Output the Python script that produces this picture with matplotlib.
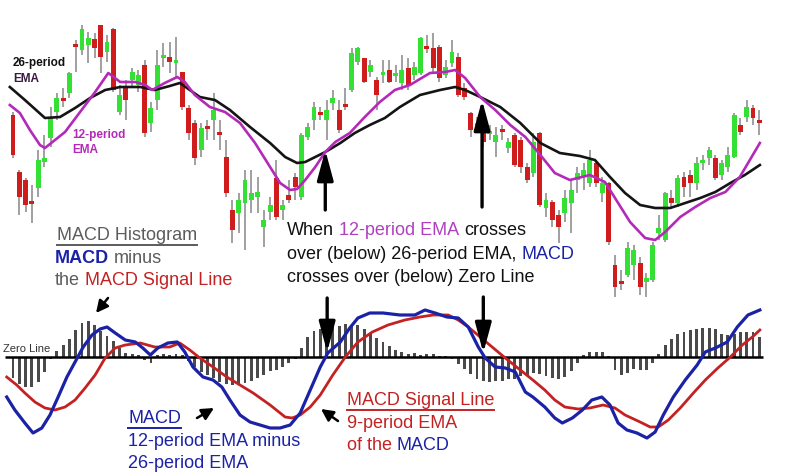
import matplotlib
matplotlib.use("Agg")
import matplotlib.pyplot as plt
from matplotlib.lines import Line2D
import numpy as np

plt.rcParams['font.family'] = ['Liberation Sans', 'DejaVu Sans']

# ---- price candles (one per session) ----
opens = [185, 128, 120, 99, 112, 138, 162, 188, 202, 207,
         256, 250, 255, 261, 275, 248, 271, 188, 212, 220,
         215, 235, 177, 200, 242, 243, 237, 228, 192, 177,
         150, 174, 180, 168, 143, 90, 87, 97, 100, 103,
         73, 88, 122, 90, 105, 123, 103, 163, 180, 188,
         180, 197, 190, 196, 210, 238, 242, 228, 220, 225,
         230, 225, 217, 232, 225, 227, 254, 252, 253, 225,
         237, 243, 212, 187, 172, 168, 166, 158, 171, 152,
         165, 160, 133, 127, 167, 92, 98, 85, 87, 97,
         120, 123, 117, 137, 107, 117, 35, 19, 25, 35,
         37, 18, 20, 67, 60, 102, 97, 123, 125, 117,
         137, 142, 142, 125, 133, 143, 175, 183, 192, 180]
closes = [145, 103, 95, 97, 140, 142, 182, 202, 200, 227,
          254, 271, 262, 252, 243, 258, 210, 205, 200, 228,
          225, 167, 192, 235, 245, 238, 240, 193, 167, 142,
          172, 172, 190, 166, 107, 70, 100, 120, 107, 108,
          80, 95, 83, 95, 100, 113, 165, 173, 193, 186,
          190, 202, 170, 194, 247, 252, 218, 235, 205, 228,
          218, 227, 230, 215, 233, 262, 252, 232, 222, 233,
          248, 205, 203, 170, 177, 158, 169, 165, 169, 158,
          135, 133, 120, 158, 95, 100, 80, 73, 102, 110,
          127, 130, 140, 117, 117, 58, 13, 17, 52, 50,
          13, 22, 55, 72, 107, 97, 122, 113, 117, 137,
          140, 150, 122, 137, 145, 185, 168, 193, 182, 177]
highs = [188, 130, 122, 115, 150, 165, 193, 207, 212, 228,
         260, 275, 268, 267, 275, 265, 272, 215, 220, 232,
         230, 240, 198, 250, 257, 258, 263, 228, 195, 180,
         177, 180, 207, 180, 160, 100, 107, 130, 130, 123,
         90, 103, 140, 100, 120, 127, 167, 177, 198, 193,
         200, 210, 200, 212, 252, 253, 242, 240, 223, 240,
         240, 235, 245, 242, 238, 263, 265, 267, 255, 240,
         260, 247, 217, 188, 183, 170, 175, 173, 175, 162,
         167, 163, 137, 167, 168, 107, 100, 90, 110, 120,
         133, 137, 150, 140, 123, 118, 45, 30, 58, 55,
         43, 27, 58, 85, 108, 110, 125, 128, 130, 143,
         145, 153, 145, 140, 153, 187, 182, 200, 195, 190]
lows = [142, 85, 88, 77, 103, 133, 153, 180, 193, 202,
        228, 245, 237, 242, 227, 238, 208, 185, 180, 212,
        208, 163, 168, 190, 233, 227, 223, 190, 160, 135,
        143, 160, 160, 150, 103, 57, 67, 50, 87, 87,
        53, 80, 80, 80, 97, 100, 100, 160, 170, 180,
        160, 190, 167, 190, 208, 235, 217, 223, 190, 217,
        217, 218, 210, 210, 220, 225, 247, 228, 218, 222,
        233, 203, 200, 163, 170, 153, 160, 143, 160, 147,
        133, 127, 117, 123, 93, 83, 73, 57, 78, 67,
        107, 110, 113, 113, 98, 55, 3, 10, 23, 20,
        5, 3, 18, 60, 58, 93, 93, 103, 103, 110,
        130, 135, 120, 120, 128, 142, 165, 178, 175, 165]

# ---- moving averages (session, price) ----
ema26_t = [-0.5, 1.9, 5.1, 7.5, 9.9, 12.3, 14.7, 17.1, 20.3, 22.6,
           25.0, 26.6, 28.2, 29.8, 32.2, 34.6, 37.8, 41.0, 43.4, 45.3,
           46.6, 48.2, 49.8, 52.2, 54.5, 56.9, 59.3, 61.7, 64.9, 68.1,
           70.5, 72.1, 74.5, 77.7, 80.9, 84.1, 87.2, 90.4, 92.8, 95.2,
           97.6, 100.0, 102.4, 104.8, 107.2, 109.6, 112.0, 114.4, 116.7, 119.1]
ema26 = [213, 200, 182, 183, 192, 202, 210, 213, 213, 210,
         214, 217, 210, 203, 200, 190, 173, 157, 143, 137,
         138, 143, 148, 157, 167, 175, 182, 193, 205, 210,
         213, 210, 203, 193, 177, 157, 147, 144, 140, 123,
         107, 95, 92, 92, 97, 102, 108, 117, 125, 135]
ema12_t = [-0.5, 1.1, 2.7, 4.3, 5.1, 6.7, 8.3, 10.7, 13.1, 15.2,
           17.1, 19.5, 21.1, 22.2, 24.2, 26.2, 27.4, 29.0, 31.4, 33.8,
           36.2, 38.6, 41.0, 42.6, 44.2, 45.3, 46.6, 48.2, 49.8, 51.4,
           53.7, 56.1, 58.5, 60.9, 63.3, 66.5, 68.9, 70.5, 72.1, 74.5,
           76.9, 79.3, 81.7, 84.1, 86.4, 88.8, 92.0, 94.4, 96.0, 98.4,
           100.8, 102.4, 104.0, 106.4, 108.8, 111.2, 113.6, 115.9, 119.1]
ema12 = [195, 187, 170, 155, 152, 160, 168, 188, 208, 227,
         218, 218, 215, 210, 217, 223, 218, 205, 193, 188,
         177, 157, 133, 117, 110, 111, 120, 133, 148, 158,
         167, 183, 198, 210, 215, 227, 228, 230, 222, 203,
         190, 175, 163, 145, 127, 120, 125, 118, 102, 78,
         62, 60, 68, 83, 93, 102, 108, 123, 157]

# ---- MACD panel ----
hist = [-2.1, -2.7, -3.0, -3.0, -2.5, -1.5, -0.2, 0.6, 1.2, 1.8,
        2.7, 3.4, 3.6, 3.2, 2.6, 2.1, 1.6, 0.9, 0.4, 0.3,
        0.2, -0.3, -0.6, 0.2, 0.3, 0.2, 0.3, 0.2, -0.4, -1.0,
        -1.5, -1.8, -2.1, -2.5, -2.7, -2.8, -2.8, -2.6, -2.4, -2.1,
        -1.8, -1.4, -1.3, -1.0, -0.6, -0.2, 0.9, 2.0, 2.6, 2.8,
        3.0, 3.2, 3.1, 3.3, 3.2, 3.2, 2.8, 2.4, 1.9, 1.5,
        1.1, 0.7, 0.5, 0.3, 0.4, 0.2, 0.3, 0.3, 0.1, 0.1,
        -0.2, -0.7, -1.2, -1.7, -2.2, -2.4, -2.5, -2.4, -2.4, -2.2,
        -2.2, -1.9, -1.8, -1.6, -1.7, -1.9, -2.1, -2.2, -2.0, -1.4,
        -0.6, 0.2, 0.5, 0.5, 0.5, 0.1, -1.3, -1.8, -1.6, -1.2,
        -1.3, -1.3, -0.6, 0.3, 1.2, 1.8, 2.3, 2.5, 2.7, 2.8,
        2.9, 2.9, 2.8, 2.3, 2.2, 2.3, 2.5, 2.5, 2.5, 2.0]
macd_t = [-1.0, 0.3, 1.9, 3.2, 4.6, 5.9, 7.2, 8.6, 9.9, 11.2,
          12.6, 13.9, 15.0, 16.3, 17.9, 19.5, 20.7, 21.9, 23.1, 24.7,
          26.2, 27.4, 28.7, 30.3, 31.9, 33.3, 34.6, 36.2, 37.8, 39.4,
          41.0, 42.6, 44.2, 45.8, 47.4, 49.0, 50.2, 52.2, 53.7, 55.0,
          56.9, 59.0, 61.7, 64.1, 65.7, 67.3, 69.2, 71.0, 72.6, 74.2,
          75.3, 76.9, 78.5, 80.1, 81.7, 82.9, 84.8, 86.4, 87.6, 89.2,
          90.8, 92.3, 93.9, 95.2, 96.5, 97.9, 99.5, 101.1, 102.4, 103.7,
          105.3, 107.2, 109.1, 110.4, 112.0, 113.9, 115.5, 117.2, 119.1]
macd = [-4.0, -5.3, -6.6, -7.6, -7.1, -5.8, -4.0, -2.0, -0.5, 1.0,
        2.2, 2.8, 3.0, 2.4, 1.7, 1.5, 0.9, 0.2, 0.9, 1.4,
        1.5, 0.5, -1.0, -2.0, -2.3, -3.0, -4.3, -5.8, -6.5, -6.8,
        -7.1, -7.1, -6.8, -5.6, -3.3, -1.0, 0.4, 1.5, 2.9, 3.9,
        4.4, 4.4, 4.2, 4.2, 4.7, 4.4, 4.0, 3.9, 3.0, 1.0,
        -0.1, -1.0, -1.1, -1.5, -3.5, -4.0, -5.0, -6.1, -6.6, -6.1,
        -5.3, -4.3, -4.0, -4.8, -6.6, -7.3, -7.6, -8.1, -7.5, -5.8,
        -4.0, -2.3, -0.8, 0.5, 0.9, 1.5, 3.0, 4.2, 4.7]
signal_t = [-1.0, 0.6, 1.9, 3.5, 5.1, 6.7, 8.3, 9.9, 11.5, 13.1,
            14.7, 16.3, 17.9, 20.3, 22.6, 25.0, 26.6, 28.2, 29.8, 31.9,
            34.1, 36.2, 38.3, 41.0, 43.4, 44.5, 45.8, 47.4, 49.0, 51.0,
            53.0, 55.0, 57.3, 59.8, 62.5, 64.9, 67.0, 69.4, 71.0, 72.6,
            74.5, 76.6, 78.5, 80.5, 82.9, 84.8, 86.4, 88.0, 90.1, 92.0,
            94.1, 96.0, 97.6, 100.0, 101.6, 102.9, 104.5, 106.4, 108.5, 110.4,
            112.4, 114.4, 116.3, 117.9, 119.1]
signal = [-2.0, -2.8, -3.6, -4.5, -5.1, -5.3, -5.0, -4.3, -3.1, -1.8,
          -0.1, 0.9, 1.2, 1.4, 1.0, 1.0, 1.4, 0.7, -0.1, -1.0,
          -2.0, -2.8, -3.6, -4.8, -6.0, -6.1, -5.8, -5.0, -3.8, -1.8,
          0.0, 1.5, 2.5, 3.2, 3.7, 4.0, 4.2, 4.2, 3.7, 3.0,
          2.0, 0.9, -0.1, -1.1, -2.3, -3.3, -4.3, -5.0, -5.2, -5.1,
          -4.8, -5.1, -5.8, -6.5, -7.0, -7.0, -6.3, -5.1, -3.6, -2.3,
          -1.1, 0.0, 1.2, 2.0, 2.7]

W, H = 800, 476
fig = plt.figure(figsize=(8, 4.76), dpi=100, facecolor="white")


def fx(x):
    return x / W


def fy(y):
    return 1 - y / H


XLIM = (-2.07, 125.5)

# price panel
ax = fig.add_axes([0, fy(300), 1, 300 / H])
ax.set_xlim(*XLIM)
ax.set_ylim(0, 300)
ax.axis("off")

o = np.array(opens, float)
c = np.array(closes, float)
idx = np.arange(len(o))
body = np.maximum(np.abs(c - o), 3)
mid = (o + c) / 2
cols = np.where(c >= o, "#35e035", "#cf1d1d")
ax.vlines(idx, lows, highs, color="#a0a0a0", lw=1.4, zorder=1)
ax.bar(idx, body, bottom=mid - body / 2, width=0.78, color=cols, zorder=2)
ax.plot(ema26_t, ema26, color="#141414", lw=1.9, zorder=3)
ax.plot(ema12_t, ema12, color="#b42ab8", lw=1.9, zorder=4)

arrow = dict(arrowstyle="-|>,head_length=1.3,head_width=0.35", color="black",
             lw=2.4, mutation_scale=14, shrinkA=0, shrinkB=0)
ax.annotate("", xy=(49.8, 150), xytext=(49.8, 90), arrowprops=arrow, zorder=6)
ax.annotate("", xy=(74.8, 200), xytext=(74.8, 93), arrowprops=arrow, zorder=6)

# MACD panel
bx = fig.add_axes([0, 0, 1, 186 / H])
bx.set_xlim(*XLIM)
bx.set_ylim(-11.9, 6.7)
bx.axis("off")
bx.bar(np.arange(len(hist)), hist, width=0.46, color="#4a4a4a", zorder=1)
bx.hlines(0, -1.2, 119.6, color="black", lw=1.8, zorder=2)
bx.plot(signal_t, signal, color="#c42222", lw=2.0, zorder=3)
bx.plot(macd_t, macd, color="#1b22a6", lw=2.3, zorder=4)
bx.annotate("", xy=(50.1, 0.5), xytext=(50.1, 5.9), arrowprops=arrow,
            annotation_clip=False, zorder=6)
bx.annotate("", xy=(75.0, 0.4), xytext=(75.0, 6.0), arrowprops=arrow,
            annotation_clip=False, zorder=6)

# small pointer arrows
small = dict(arrowstyle="-|>,head_length=0.6,head_width=0.3", color="black",
             lw=1.8, mutation_scale=12, shrinkA=0, shrinkB=0)
for (x0, y0), (x1, y1) in [((108, 298), (96, 313)),
                           ((197, 418), (214, 408)),
                           ((338, 421), (321, 409))]:
    fig.add_artist(plt.Annotation("", xy=(fx(x1), fy(y1)), xytext=(fx(x0), fy(y0)),
                                  xycoords="figure fraction", arrowprops=small))

# text
GRAY = "#5c5c5c"
BLUE = "#1b22a6"
RED = "#c42222"
MAG = "#b040c0"
renderer = fig.canvas.get_renderer()


def write(x, y, parts, size=13, underline=False):
    probe = fig.text(0, 0, "x x", fontsize=size)
    probe2 = fig.text(0, 0, "xx", fontsize=size)
    gap = probe.get_window_extent(renderer).width - probe2.get_window_extent(renderer).width
    probe.remove()
    probe2.remove()
    cur = x
    for s, col, wt in parts:
        t = fig.text(fx(cur), fy(y), s, color=col, fontsize=size, fontweight=wt,
                     ha="left", va="baseline")
        w = t.get_window_extent(renderer).width
        if underline:
            fig.add_artist(Line2D([fx(cur), fx(cur + w)], [fy(y + 5)] * 2, color=col, lw=1.4))
        cur += w + gap


write(57, 240, [("MACD Histogram", GRAY, "normal")], underline=True)
write(55, 263, [("MACD", BLUE, "bold"), ("minus", GRAY, "normal")])
write(55, 285, [("the", GRAY, "normal"), ("MACD Signal Line", RED, "normal")])

write(287, 235, [("When", "#111111", "normal"), ("12-period EMA", MAG, "normal"),
                 ("crosses", "#111111", "normal")])
write(287, 259, [("over (below) 26-period EMA,", "#111111", "normal"), ("MACD", BLUE, "normal")])
write(287, 282, [("crosses over (below) Zero Line", "#111111", "normal")])

write(128, 423, [("MACD", BLUE, "normal")], underline=True)
write(128, 446, [("12-period EMA minus", BLUE, "normal")])
write(128, 468, [("26-period EMA", BLUE, "normal")])

write(347, 405, [("MACD Signal Line", RED, "normal")], underline=True)
write(347, 428, [("9-period EMA", RED, "normal")])
write(347, 450, [("of the", RED, "normal"), ("MACD", BLUE, "normal")])

write(13, 66, [("26-period", "#111111", "bold")], size=8.5)
write(13, 82, [("EMA", "#3a1a40", "bold")], size=8.5)
write(72, 138, [("12-period", "#b42ab8", "bold")], size=8.5)
write(72, 153, [("EMA", "#b42ab8", "bold")], size=8.5)
write(3, 352, [("Zero Line", "#333333", "normal")], size=8)

fig.savefig("out.png", dpi=100, facecolor="white")
